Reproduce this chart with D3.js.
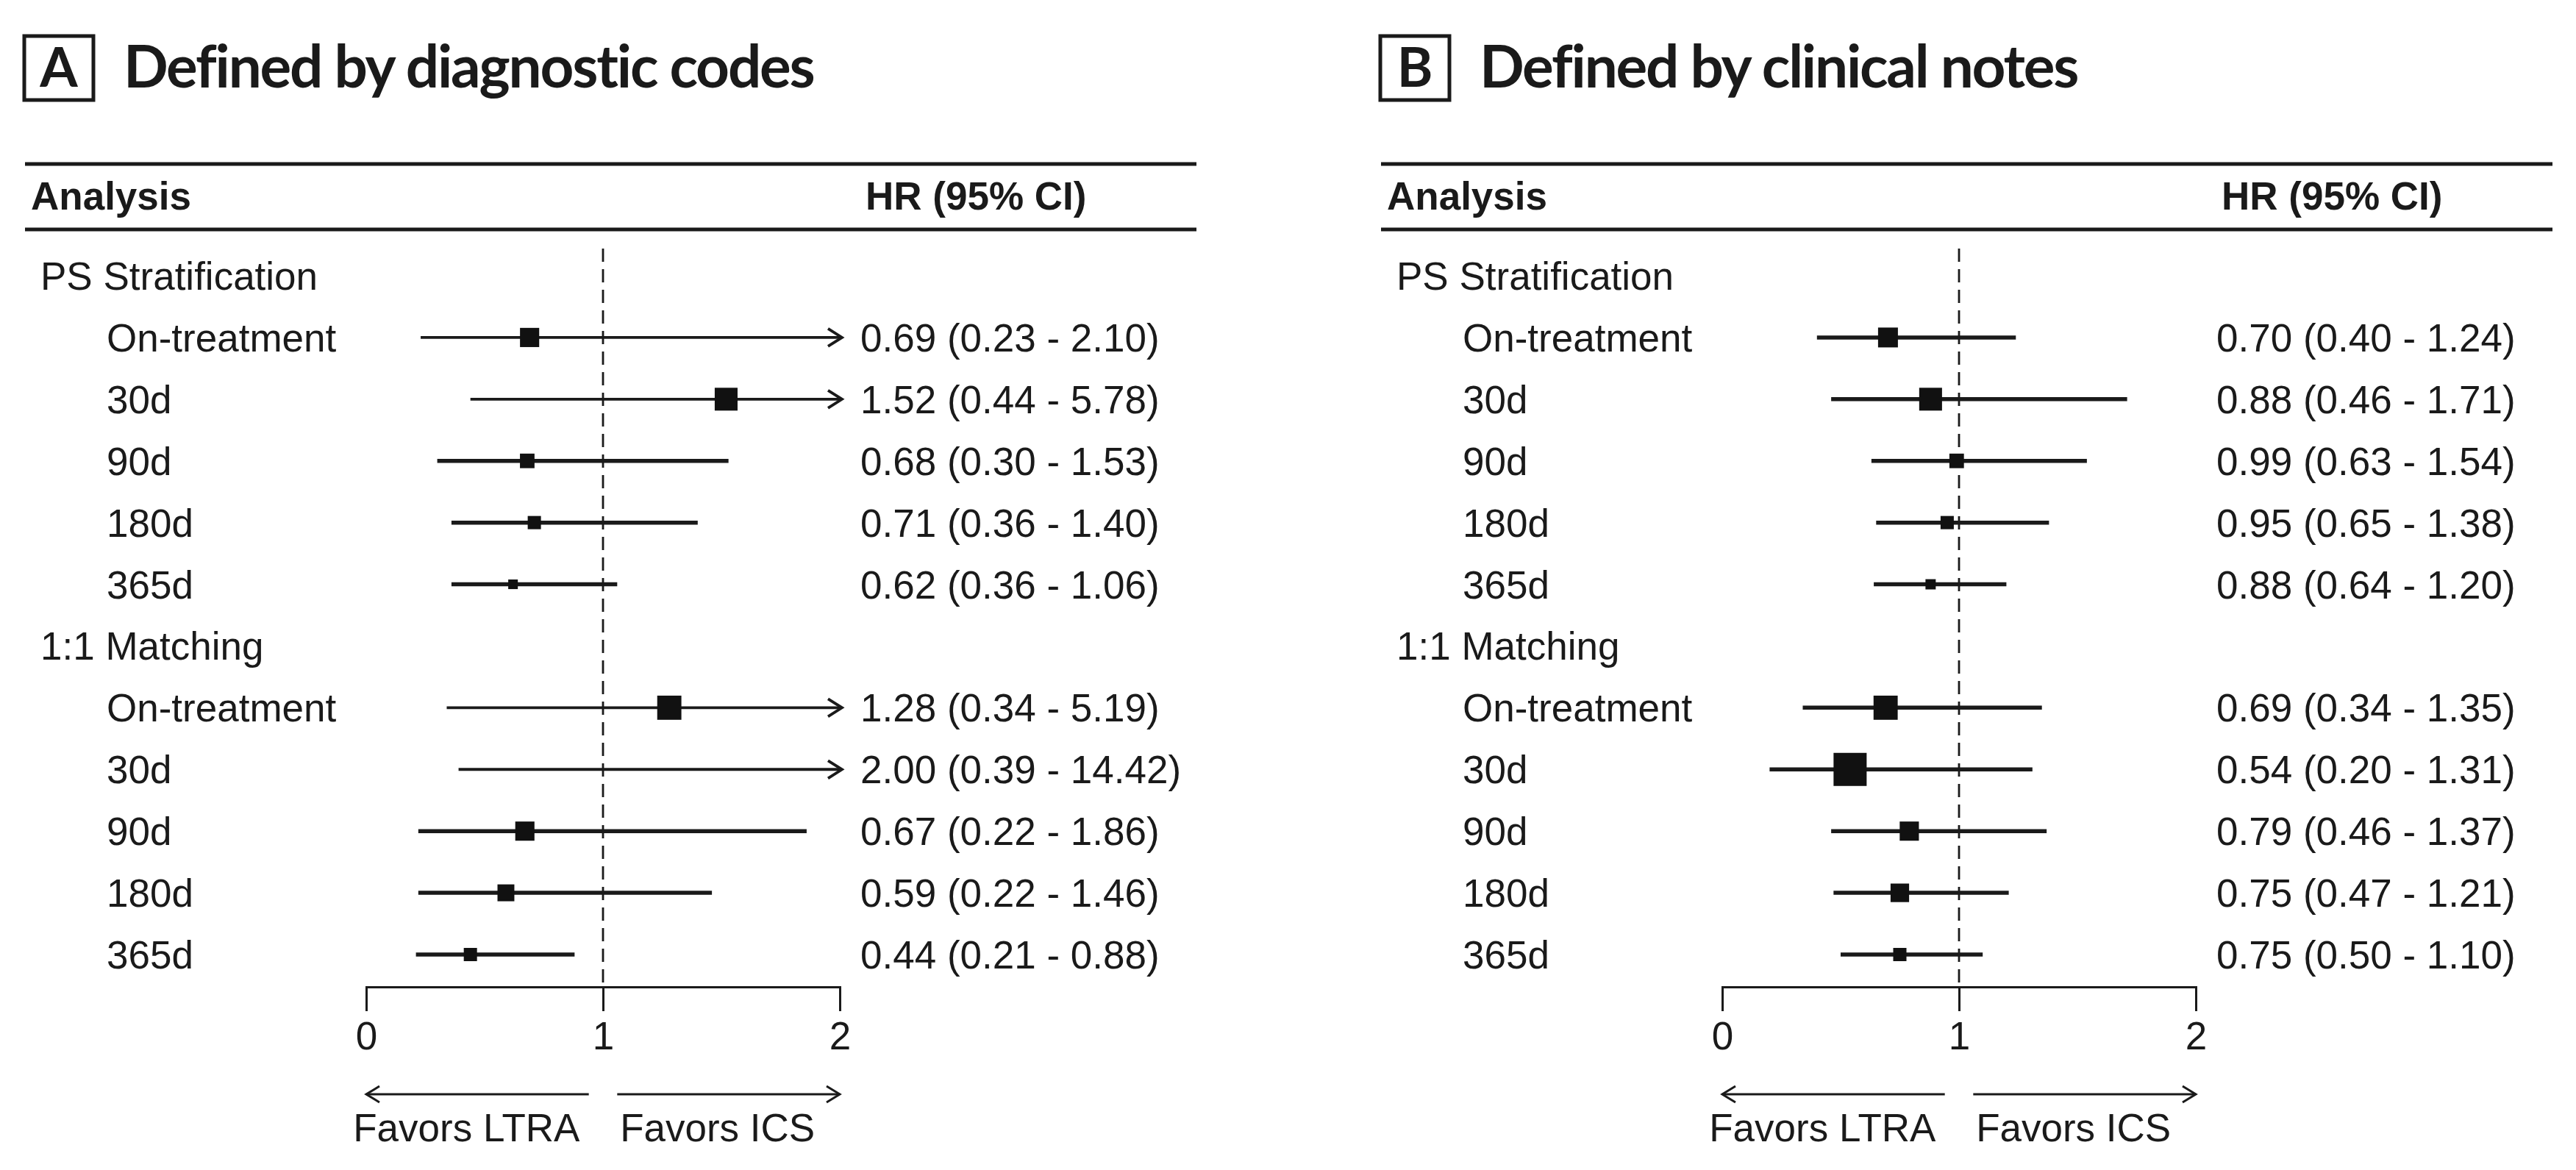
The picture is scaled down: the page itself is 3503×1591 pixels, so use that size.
<!DOCTYPE html>
<html>
<head>
<meta charset="utf-8">
<script src="https://cdn.jsdelivr.net/npm/d3@7"></script>
<style>
  html, body { margin: 0; padding: 0; background: #fff; }
  svg { display: block; }
  text { fill: #1a1a1a; }
</style>
</head>
<body>
<svg id="chart" width="3503" height="1591"></svg>
<script>
// Rows of the table, in order; group headers have no estimate
const rowLabels = [
  'PS Stratification', 'On-treatment', '30d', '90d', '180d', '365d',
  '1:1 Matching', 'On-treatment', '30d', '90d', '180d', '365d'
];
const groupRows = ['PS Stratification', '1:1 Matching'];

// Panel A: defined by diagnostic codes
const hrA = [null, 0.69, 1.52, 0.68, 0.71, 0.62, null, 1.28, 2.00, 0.67, 0.59, 0.44];
const lowerA = [null, 0.23, 0.44, 0.30, 0.36, 0.36, null, 0.34, 0.39, 0.22, 0.22, 0.21];
const upperA = [null, 2.10, 5.78, 1.53, 1.40, 1.06, null, 5.19, 14.42, 1.86, 1.46, 0.88];
const weightA = [null, 0.58, 0.69, 0.44, 0.40, 0.29, null, 0.73, null, 0.58, 0.51, 0.40];

// Panel B: defined by clinical notes
const hrB = [null, 0.70, 0.88, 0.99, 0.95, 0.88, null, 0.69, 0.54, 0.79, 0.75, 0.75];
const lowerB = [null, 0.40, 0.46, 0.63, 0.65, 0.64, null, 0.34, 0.20, 0.46, 0.47, 0.50];
const upperB = [null, 1.24, 1.71, 1.54, 1.38, 1.20, null, 1.35, 1.31, 1.37, 1.21, 1.10];
const weightB = [null, 0.60, 0.69, 0.44, 0.40, 0.31, null, 0.73, 1.00, 0.58, 0.56, 0.40];

const panels = [
  { letter: 'A', title: 'Defined by diagnostic codes', hr: hrA, lower: lowerA, upper: upperA, weight: weightA },
  { letter: 'B', title: 'Defined by clinical notes', hr: hrB, lower: lowerB, upper: upperB, weight: weightB }
];

const xTicks = [0, 1, 2];
const favorLabels = ['Favors LTRA', 'Favors ICS'];
const headers = ['Analysis', 'HR (95% CI)'];

const panelOffset = 1844;
const plotRange = [498, 1142];
const rowRange = [375, 1298];
const ruleRange = [34, 1627];
const axisY = 1342;
const bodyFont = '"Liberation Sans", Arial, sans-serif';
const titleFont = 'Lato, "Open Sans", sans-serif';
const ink = '#1a1a1a';

const fmt = d3.format('.2f');
const svg = d3.select('#chart');
svg.append('rect').attr('width', 3503).attr('height', 1591).attr('fill', '#fff');

const y = d3.scalePoint()
  .domain(d3.range(rowLabels.length))
  .range(rowRange);
const boxSize = d3.scaleLinear().domain([0, 1]).range([0, 45]);

panels.forEach((p, pi) => {
  const g = svg.append('g')
    .attr('transform', `translate(${pi * panelOffset},0)`);
  const x = d3.scaleLinear().domain([0, 2]).range(plotRange);

  // Panel letter box and title
  g.append('rect')
    .attr('x', 33).attr('y', 49)
    .attr('width', 94).attr('height', 87)
    .attr('fill', 'none').attr('stroke', ink).attr('stroke-width', 5);
  g.append('text')
    .attr('x', 80).attr('y', 118)
    .attr('text-anchor', 'middle')
    .style('font-family', titleFont).style('font-weight', 700).style('font-size', '74px')
    .text(p.letter);
  g.append('text')
    .attr('x', 168).attr('y', 119)
    .style('font-family', titleFont).style('font-weight', 700).style('font-size', '80px')
    .style('letter-spacing', '-2.2px')
    .text(p.title);

  // Table rules and header
  [223, 312].forEach(ry => {
    g.append('line')
      .attr('x1', ruleRange[0]).attr('x2', ruleRange[1])
      .attr('y1', ry).attr('y2', ry)
      .attr('stroke', ink).attr('stroke-width', 5);
  });
  g.selectAll('.header')
    .data(headers)
    .join('text')
    .attr('class', 'header')
    .attr('x', (d, i) => i === 0 ? 42 : 1177)
    .attr('y', 285)
    .style('font-family', bodyFont).style('font-weight', 700).style('font-size', '53px')
    .text(d => d);

  // Row labels
  g.selectAll('.label')
    .data(rowLabels)
    .join('text')
    .attr('class', 'label')
    .attr('x', d => groupRows.includes(d) ? 55 : 145)
    .attr('y', (d, i) => y(i) + 19)
    .style('font-family', bodyFont).style('font-size', '53px')
    .text(d => d);

  // Reference line at HR = 1
  g.append('line')
    .attr('x1', x(1)).attr('x2', x(1))
    .attr('y1', 338).attr('y2', axisY)
    .attr('stroke', ink).attr('stroke-width', 2.8)
    .attr('stroke-dasharray', '18,10');

  const rows = d3.range(rowLabels.length)
    .filter(i => p.hr[i] !== null)
    .map(i => ({
      i, hr: p.hr[i], lower: p.lower[i], upper: p.upper[i], weight: p.weight[i]
    }));

  // CI lines, clipped to the axis range with an arrow
  g.selectAll('.ci')
    .data(rows)
    .join('line')
    .attr('class', 'ci')
    .attr('x1', d => x(Math.max(d.lower, 0)))
    .attr('x2', d => d.upper > 2 ? x(2) + 2 : x(d.upper))
    .attr('y1', d => y(d.i)).attr('y2', d => y(d.i))
    .attr('stroke', ink)
    .attr('stroke-width', d => d.upper > 2 ? 3.8 : 5.5);
  g.selectAll('.ci-arrow')
    .data(rows.filter(d => d.upper > 2))
    .join('path')
    .attr('class', 'ci-arrow')
    .attr('d', d => {
      const tx = x(2) + 3;
      const ty = y(d.i);
      return `M${tx - 19},${ty - 12}L${tx},${ty}L${tx - 19},${ty + 12}`;
    })
    .attr('fill', 'none').attr('stroke', ink).attr('stroke-width', 3.8);

  // Point estimates
  g.selectAll('.box')
    .data(rows.filter(d => d.weight !== null && d.hr < 2))
    .join('rect')
    .attr('class', 'box')
    .attr('x', d => x(d.hr) - boxSize(d.weight) / 2)
    .attr('y', d => y(d.i) - boxSize(d.weight) / 2)
    .attr('width', d => boxSize(d.weight))
    .attr('height', d => boxSize(d.weight))
    .attr('fill', '#111');

  // HR (95% CI) column
  g.selectAll('.value')
    .data(rows)
    .join('text')
    .attr('class', 'value')
    .attr('x', 1170)
    .attr('y', d => y(d.i) + 19)
    .style('font-family', bodyFont).style('font-size', '53px')
    .text(d => `${fmt(d.hr)} (${fmt(d.lower)} - ${fmt(d.upper)})`);

  // X axis
  const axis = g.append('g')
    .attr('transform', `translate(0,${axisY})`)
    .call(d3.axisBottom(x)
      .tickValues(xTicks)
      .tickFormat(d3.format('d'))
      .tickSize(33)
      .tickSizeOuter(33)
      .tickPadding(14));
  axis.select('.domain').attr('stroke', ink).attr('stroke-width', 3);
  axis.selectAll('.tick line').attr('stroke', ink).attr('stroke-width', 3);
  axis.selectAll('.tick text')
    .style('font-family', bodyFont).style('font-size', '53px')
    .attr('fill', ink);

  // Direction arrows
  const favorSpans = [[0.94, 0], [1.06, 2]];
  favorSpans.forEach((span, k) => {
    const ay = 1488;
    const x0 = x(span[0]);
    const x1 = x(span[1]);
    const dir = Math.sign(x1 - x0);
    g.append('line')
      .attr('x1', x0).attr('x2', x1)
      .attr('y1', ay).attr('y2', ay)
      .attr('stroke', ink).attr('stroke-width', 3);
    g.append('path')
      .attr('d', `M${x1 - dir * 18},${ay - 11}L${x1},${ay}L${x1 - dir * 18},${ay + 11}`)
      .attr('fill', 'none').attr('stroke', ink).attr('stroke-width', 3);
    g.append('text')
      .attr('x', (x0 + x1) / 2 - 15)
      .attr('y', 1552)
      .attr('text-anchor', 'middle')
      .style('font-family', bodyFont).style('font-size', '53px')
      .text(favorLabels[k]);
  });
});
</script>
</body>
</html>
